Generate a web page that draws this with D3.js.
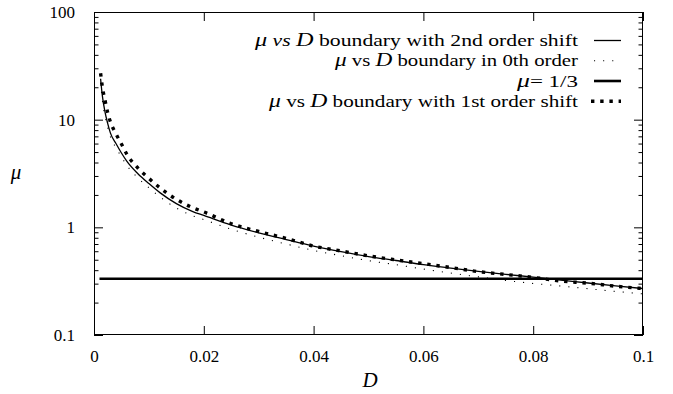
<!DOCTYPE html>
<html>
<head>
<meta charset="utf-8">
<script src="https://cdn.jsdelivr.net/npm/d3@7"></script>
<style>
  html, body { margin: 0; padding: 0; background: #fff; }
  svg { display: block; }
</style>
</head>
<body>
<div id="chart"></div>
<script>
// D values
const dValues = [0.0012, 0.0015, 0.002, 0.0025, 0.003, 0.004, 0.005, 0.006, 0.008, 0.01,
  0.012, 0.015, 0.018, 0.02, 0.025, 0.03, 0.035, 0.04, 0.045, 0.05,
  0.055, 0.06, 0.065, 0.07, 0.075, 0.08, 0.085, 0.09, 0.095, 0.1]

// mu vs D boundary with 2nd order shift (solid)
const muSecond = [24, 17, 11.8, 9.2, 7.5, 6.0, 4.9, 4.1, 3.15, 2.55,
  2.1, 1.66, 1.40, 1.29, 1.05, 0.89, 0.77, 0.67, 0.595, 0.535,
  0.492, 0.45, 0.418, 0.39, 0.366, 0.345, 0.324, 0.304, 0.286, 0.27]

// mu vs D boundary in 0th order (fine dots)
const muZeroth = [22, 15.5, 10.8, 8.5, 6.9, 5.5, 4.5, 3.75, 2.88, 2.33,
  1.92, 1.51, 1.28, 1.18, 0.96, 0.81, 0.70, 0.61, 0.545, 0.49,
  0.45, 0.41, 0.376, 0.347, 0.321, 0.301, 0.285, 0.269, 0.254, 0.241]

// mu vs D boundary with 1st order shift (thick dots)
const muFirst = [27, 20.5, 15.2, 11.6, 9.5, 7.4, 5.95, 4.75, 3.55, 2.85,
  2.33, 1.82, 1.52, 1.39, 1.08, 0.915, 0.79, 0.67, 0.603, 0.543,
  0.498, 0.46, 0.423, 0.388, 0.365, 0.343, 0.317, 0.303, 0.284, 0.27]

const muConst = 1 / 3

const xTicks = [0, 0.02, 0.04, 0.06, 0.08, 0.1]
const xTickLabels = ['0', '0.02', '0.04', '0.06', '0.08', '0.1']
const yTicks = [0.1, 1, 10, 100]
const yTickLabels = ['0.1', '1', '10', '100']

const FONT = "'Liberation Serif'"

const W = 673, H = 394
const M = { left: 94, right: 643, top: 12, bottom: 335 }

const svg = d3.select('#chart').append('svg')
  .attr('width', W).attr('height', H)

const x = d3.scaleLinear().domain([0, 0.1]).range([M.left, M.right])
const y = d3.scaleLog().domain([0.1, 100]).range([M.bottom, M.top])

const yMinor = []
for (const dec of [0.1, 1, 10]) {
  for (let k = 2; k <= 9; k++) yMinor.push(dec * k)
}

// axes: ticks point inward on all four sides
const fmtX = d => xTickLabels[xTicks.indexOf(d)]
const fmtY = d => yTickLabels[yTicks.findIndex(v => Math.abs(v - d) < 1e-9)]

svg.append('g').attr('transform', `translate(0,${M.bottom})`)
  .call(d3.axisBottom(x).tickValues(xTicks).tickSize(-9).tickPadding(15).tickFormat(fmtX))
svg.append('g').attr('transform', `translate(0,${M.top})`)
  .call(d3.axisTop(x).tickValues(xTicks).tickSize(-9).tickFormat(''))

svg.append('g').attr('transform', `translate(${M.left},0)`)
  .call(d3.axisLeft(y).tickValues(yTicks).tickSize(-9).tickPadding(19).tickFormat(fmtY))
svg.append('g').attr('transform', `translate(${M.left},0)`)
  .call(d3.axisLeft(y).tickValues(yMinor).tickSize(-4.5).tickFormat(''))
svg.append('g').attr('transform', `translate(${M.right},0)`)
  .call(d3.axisRight(y).tickValues(yTicks).tickSize(-9).tickFormat(''))
svg.append('g').attr('transform', `translate(${M.right},0)`)
  .call(d3.axisRight(y).tickValues(yMinor).tickSize(-4.5).tickFormat(''))

svg.selectAll('.domain').remove()
svg.selectAll('.tick line').attr('stroke', '#000').attr('stroke-width', 1)
svg.selectAll('.tick text').attr('fill', '#000')
  .style('font-family', FONT).style('font-size', '17px')

// frame
svg.append('rect')
  .attr('x', M.left + 0.5).attr('y', M.top + 0.5)
  .attr('width', M.right - M.left - 1).attr('height', M.bottom - M.top - 1)
  .attr('fill', 'none').attr('stroke', '#000').attr('stroke-width', 1)

// axis titles
svg.append('text')
  .attr('x', 370).attr('y', 387)
  .attr('text-anchor', 'middle')
  .style('font-family', FONT).style('font-style', 'italic').style('font-size', '21px')
  .text('D')
svg.append('text')
  .attr('x', 16).attr('y', 179)
  .attr('text-anchor', 'middle')
  .style('font-family', FONT).style('font-style', 'italic').style('font-size', '21px')
  .text('μ')

const pts = vals => dValues.map((d, i) => [d, vals[i]])
const line = d3.line()
  .x(p => x(p[0]))
  .y(p => y(p[1]))
  .curve(d3.curveMonotoneX)

const plot = svg.append('g')

// mu = 1/3
plot.append('line')
  .attr('x1', x(0.001)).attr('x2', x(0.1))
  .attr('y1', y(muConst)).attr('y2', y(muConst))
  .attr('stroke', '#000').attr('stroke-width', 2.6)

plot.append('path')
  .datum(pts(muZeroth))
  .attr('d', line)
  .attr('fill', 'none').attr('stroke', '#000')
  .attr('stroke-width', 1.1).attr('stroke-dasharray', '1.1 8')

plot.append('path')
  .datum(pts(muSecond))
  .attr('d', line)
  .attr('fill', 'none').attr('stroke', '#000').attr('stroke-width', 1.3)

plot.append('path')
  .datum(pts(muFirst))
  .attr('d', line)
  .attr('fill', 'none').attr('stroke', '#000')
  .attr('stroke-width', 3.4).attr('stroke-dasharray', '3.4 5.8')

// legend
const legendRows = [
  { parts: [['μ', 'italic'], [' vs ', 'italic'], ['D', 'italic'], [' boundary with 2nd order shift', 'normal']], len: 323, y: 40.5, style: 'solid' },
  { parts: [['μ', 'italic'], [' vs ', 'normal'], ['D', 'italic'], [' boundary in 0th order', 'normal']], len: 243, y: 60.8, style: 'dots' },
  { parts: [['μ', 'italic'], ['= 1/3', 'normal']], len: 61, y: 81, style: 'thick' },
  { parts: [['μ', 'italic'], [' vs ', 'normal'], ['D', 'italic'], [' boundary with 1st order shift', 'normal']], len: 309, y: 101.3, style: 'squares' },
]

const lx1 = 594, lx2 = 621
for (const row of legendRows) {
  const t = svg.append('text')
    .attr('x', 578).attr('y', row.y + 5.5)
    .attr('text-anchor', 'end')
    .style('font-family', FONT).style('font-size', '17px')
    .attr('textLength', row.len)
    .attr('lengthAdjust', 'spacingAndGlyphs')
  for (const [s, st] of row.parts) {
    const ts = t.append('tspan').style('font-style', st).text(s)
    if (st === 'italic' && s.trim().length === 1) ts.style('font-size', '19px')
  }
  const l = svg.append('line')
    .attr('x1', lx1).attr('x2', lx2)
    .attr('y1', row.y).attr('y2', row.y)
    .attr('stroke', '#000')
  if (row.style === 'solid') l.attr('stroke-width', 1.3)
  if (row.style === 'dots') l.attr('stroke-width', 1.1).attr('stroke-dasharray', '1.1 8')
  if (row.style === 'thick') l.attr('stroke-width', 2.6)
  if (row.style === 'squares') l.attr('x1', lx1 - 3).attr('stroke-width', 3.4).attr('stroke-dasharray', '3.4 5.8')
}
</script>
</body>
</html>
